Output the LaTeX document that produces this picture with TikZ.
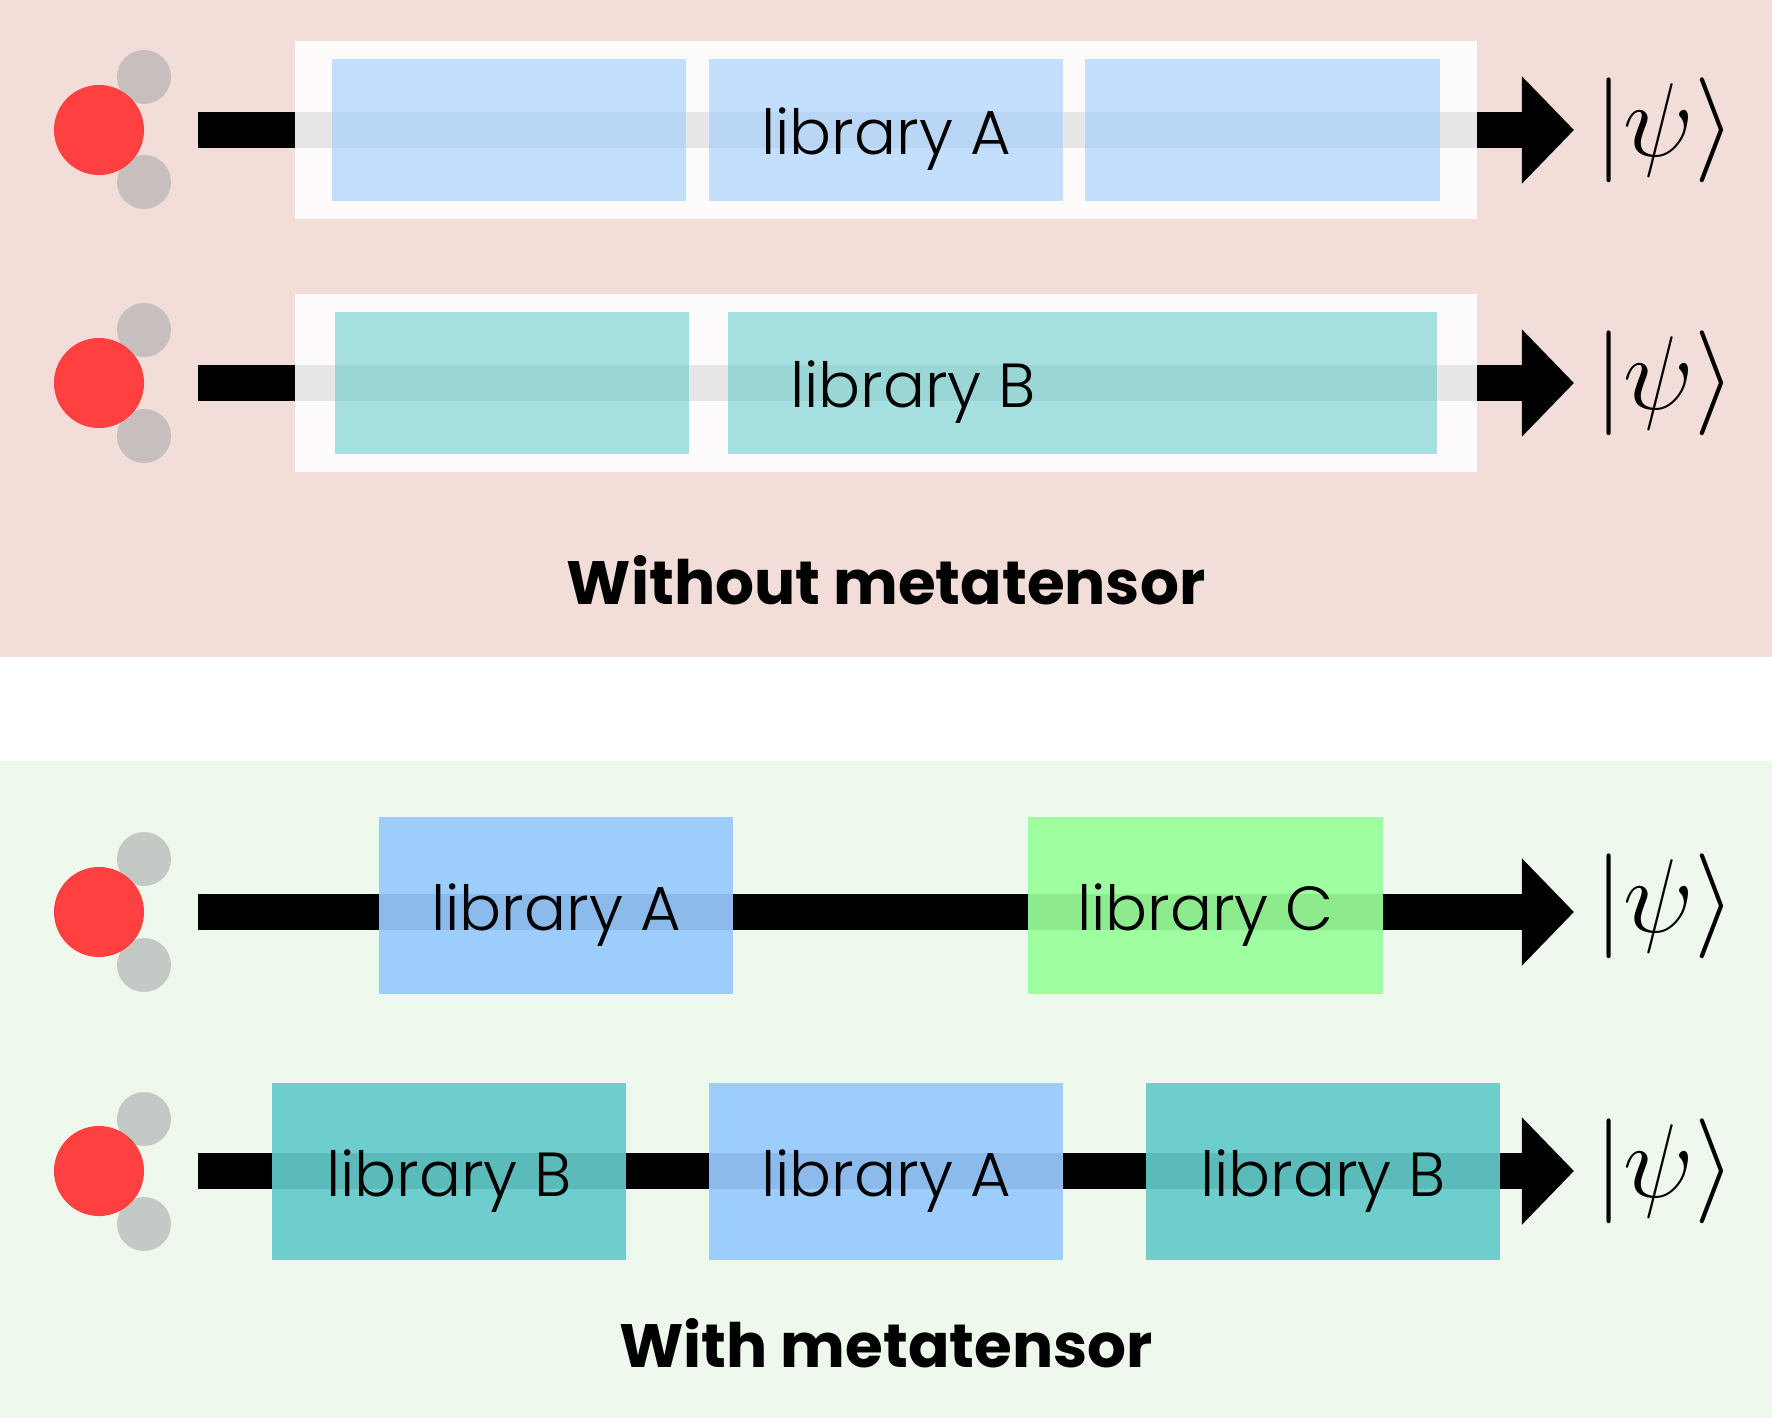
\documentclass[tikz,border=0pt]{standalone}
\usepackage{fix-cm}
\usepackage{fontspec}
\usetikzlibrary{arrows.meta}
\setmainfont{Poppins}
\newfontfamily\liblight{Poppins Light}
\newfontfamily\titlebold{Poppins Bold}
\definecolor{panelred}{HTML}{F3DDD8}
\definecolor{panelgreen}{HTML}{EEF8EC}
\definecolor{libA}{HTML}{97CAFF}
\definecolor{libB}{HTML}{63CBCB}
\definecolor{libC}{HTML}{99FF99}
\tikzset{
    oxygen/.style={circle, inner sep=0pt, minimum size=0.9cm, fill={rgb,255:red,255;green,64;blue,64}},
    hydrogen/.style={circle, inner sep=0pt, minimum size=0.54cm, fill=black!33, fill opacity=0.6},
    shaft/.style={line width=0.367cm, -{Triangle[length=0.52cm,width=1.04cm]}},
    wrapper/.style={rectangle, inner sep=0pt, minimum width=11.82cm, minimum height=1.77cm, fill=white, fill opacity=0.9},
    faded/.style={rectangle, inner sep=0pt, minimum height=1.42cm, fill opacity=0.57, text opacity=1},
    libtext/.style={font=\liblight\fontsize{17.7}{18}\selectfont, text height=0.49cm, text depth=0pt},
    solid box/.style={rectangle, inner sep=0pt, minimum width=3.54cm, minimum height=1.77cm, fill opacity=0.92, text opacity=1, libtext},
    liblabel/.style={inner sep=0pt, libtext},
    ket/.style={inner sep=0pt, font=\fontsize{29.8}{30}\selectfont},
    panel title/.style={inner sep=0pt, anchor=base, font=\titlebold\fontsize{17.4}{18}\selectfont}
}

\begin{document}
\begin{tikzpicture}[x=0.01cm, y=-0.01cm]
        \useasboundingbox (0,0) rectangle (1772,1418);
        \fill[panelred] (0,0) rectangle (1772,657);
        \fill[panelgreen] (0,761) rectangle (1772,1418);

        \coordinate (S1) at (198,130);
        \coordinate (T1) at (1574,130);
        \coordinate (S2) at (198,383);
        \coordinate (T2) at (1574,383);
        \coordinate (S3) at (198,912);
        \coordinate (T3) at (1574,912);
        \coordinate (S4) at (198,1171);
        \coordinate (T4) at (1574,1171);

        % molecules
        \node[hydrogen] (H1a) at (144,77) {};
        \node[hydrogen] (H1b) at (144,182) {};
        \node[oxygen] (O1) at (99,130) {};
        \node[hydrogen] (H2a) at (144,330) {};
        \node[hydrogen] (H2b) at (144,436) {};
        \node[oxygen] (O2) at (99,383) {};
        \node[hydrogen] (H3a) at (144,859) {};
        \node[hydrogen] (H3b) at (144,965) {};
        \node[oxygen] (O3) at (99,912) {};
        \node[hydrogen] (H4a) at (144,1119) {};
        \node[hydrogen] (H4b) at (144,1224) {};
        \node[oxygen] (O4) at (99,1171) {};

        % arrows
        \draw[shaft] (S1) -- (T1);
        \draw[shaft] (S2) -- (T2);
        \draw[shaft] (S3) -- (T3);
        \draw[shaft] (S4) -- (T4);

        % without metatensor
        \node[wrapper] (W1) at (886,130) {};
        \node[wrapper] (W2) at (886,383) {};
        \node[faded, fill=libA, minimum width=3.54cm] (A1) at (509,130) {};
        \node[faded, fill=libA, minimum width=3.54cm] (A2) at (886,130) {};
        \node[faded, fill=libA, minimum width=3.54cm] (A3) at (1262.5,130) {};
        \node[faded, fill=libB, minimum width=3.54cm] (B1) at (512,383) {};
        \node[faded, fill=libB, minimum width=7.08cm] (B2) at (1082.5,383) {};
        \node[liblabel] (LA) at (886,130) {library A};
        \node[liblabel] (LB) at (913,383) {library B};
        \node[panel title] (T) at (886,604) {Without metatensor};

        % with metatensor
        \node[solid box, fill=libA] (C1) at (556,905.5) {library A};
        \node[solid box, fill=libC] (C2) at (1205.5,905.5) {library C};
        \node[solid box, fill=libB] (D1) at (449,1171.5) {library B};
        \node[solid box, fill=libA] (D2) at (886,1171.5) {library A};
        \node[solid box, fill=libB] (D3) at (1323,1171.5) {library B};
        \node[panel title] (U) at (886,1367) {With metatensor};

        % states
        \node[ket] (K1) at (1665,130) {$|\psi\rangle$};
        \node[ket] (K2) at (1665,383) {$|\psi\rangle$};
        \node[ket] (K3) at (1665,906) {$|\psi\rangle$};
        \node[ket] (K4) at (1665,1171) {$|\psi\rangle$};
\end{tikzpicture}
\end{document}
